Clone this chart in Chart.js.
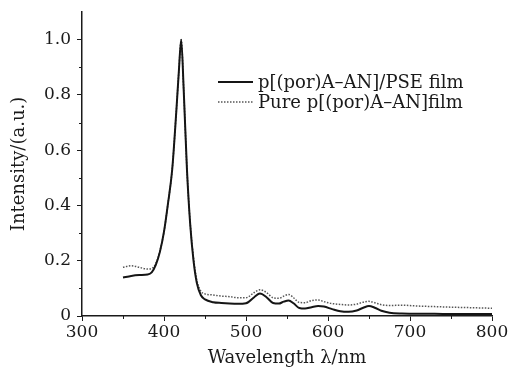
<!DOCTYPE html>
<html>
<head>
<meta charset="utf-8">
<script src="https://cdn.jsdelivr.net/npm/chart.js@4/dist/chart.umd.min.js"></script>
<style>
    html, body { margin: 0; padding: 0; background: #fff; }
    #wrap { width: 509px; height: 369px; }
</style>
</head>
<body>
<div id="wrap"><canvas id="spectrumChart"></canvas></div>
<script>
// Wavelength (nm) and intensity
const wavelengths = [350, 360, 370, 380, 385, 390, 395, 400, 405, 410, 415, 418, 421, 424, 428, 432, 436, 440, 445, 450,
    460, 470, 480, 490, 500, 510, 517, 525, 533, 540, 546, 552, 558, 565, 572, 580, 588, 595, 605, 615,
    625, 635, 643, 650, 657, 665, 675, 690, 710, 730, 750, 775, 800];

const pseFilm = [0.139, 0.145, 0.148, 0.150, 0.158, 0.185, 0.232, 0.305, 0.41, 0.53, 0.74, 0.88, 1.0, 0.82, 0.53, 0.33, 0.20, 0.12, 0.075, 0.060,
    0.050, 0.047, 0.045, 0.044, 0.046, 0.068, 0.081, 0.068, 0.047, 0.045, 0.052, 0.056, 0.046, 0.029, 0.027, 0.032, 0.036, 0.034, 0.025, 0.017,
    0.015, 0.020, 0.030, 0.036, 0.030, 0.019, 0.012, 0.009, 0.008, 0.008, 0.007, 0.007, 0.007];

const pureFilm = [0.176, 0.182, 0.176, 0.170, 0.172, 0.190, 0.235, 0.305, 0.41, 0.53, 0.74, 0.88, 1.0, 0.82, 0.53, 0.335, 0.21, 0.13, 0.09, 0.080,
    0.076, 0.072, 0.070, 0.066, 0.066, 0.085, 0.095, 0.085, 0.066, 0.064, 0.072, 0.078, 0.066, 0.049, 0.048, 0.056, 0.058, 0.052, 0.045, 0.042,
    0.040, 0.043, 0.050, 0.053, 0.048, 0.041, 0.038, 0.039, 0.036, 0.034, 0.032, 0.030, 0.028];

const seriesLabels = ['p[(por)A\u2013AN]/PSE film', 'Pure p[(por)A\u2013AN]film'];
const xTicks = [300, 400, 500, 600, 700, 800];
const yTicks = [0, 0.2, 0.4, 0.6, 0.8, 1.0];

const FONT = 'DejaVu Serif, Liberation Serif, serif';
const INK = '#1a1a1a';

function toPoints(values) {
    return wavelengths.map((w, i) => ({ x: w, y: values[i] }));
}

// minor ticks half way between the major ones, plus the legend in the upper right
const extrasPlugin = {
    id: 'extras',
    afterDraw(chart) {
        const ctx = chart.ctx;
        const xs = chart.scales.x;
        const ys = chart.scales.y;
        ctx.save();
        ctx.strokeStyle = INK;
        ctx.lineWidth = 1;
        ctx.beginPath();
        for (let i = 0; i < xTicks.length - 1; i++) {
            const px = Math.round(xs.getPixelForValue((xTicks[i] + xTicks[i + 1]) / 2)) + 0.5;
            ctx.moveTo(px, ys.bottom);
            ctx.lineTo(px, ys.bottom + 3);
        }
        for (let i = 0; i < yTicks.length - 1; i++) {
            const py = Math.round(ys.getPixelForValue((yTicks[i] + yTicks[i + 1]) / 2)) + 0.5;
            ctx.moveTo(xs.left, py);
            ctx.lineTo(xs.left - 3, py);
        }
        ctx.stroke();

        // legend
        ctx.font = '18px ' + FONT;
        ctx.textBaseline = 'middle';
        ctx.fillStyle = INK;
        chart.data.datasets.forEach((ds, i) => {
            const y = 82 + i * 20;
            ctx.beginPath();
            ctx.strokeStyle = ds.borderColor;
            ctx.lineWidth = ds.borderWidth;
            ctx.setLineDash(ds.borderDash || []);
            ctx.moveTo(218, y);
            ctx.lineTo(253, y);
            ctx.stroke();
            ctx.setLineDash([]);
            ctx.fillText(ds.label, 258, y + 1);
        });
        ctx.restore();
    }
};

function initChart() {
    new Chart(document.getElementById('spectrumChart'), {
        type: 'line',
        data: {
            datasets: [
                {
                    label: seriesLabels[0],
                    data: toPoints(pseFilm),
                    borderColor: '#151515',
                    borderWidth: 2,
                    pointRadius: 0,
                    cubicInterpolationMode: 'monotone'
                },
                {
                    label: seriesLabels[1],
                    data: toPoints(pureFilm),
                    borderColor: '#555555',
                    borderWidth: 1.5,
                    borderDash: [1.5, 1.5],
                    pointRadius: 0,
                    cubicInterpolationMode: 'monotone'
                }
            ]
        },
        options: {
            responsive: true,
            maintainAspectRatio: false,
            animation: false,
            layout: { padding: { top: 12, right: 17, left: 0, bottom: 0 } },
            plugins: {
                legend: { display: false },
                tooltip: { enabled: false }
            },
            scales: {
                x: {
                    type: 'linear',
                    min: 300,
                    max: 800,
                    afterBuildTicks: s => { s.ticks = xTicks.map(v => ({ value: v })); },
                    afterFit: s => { s.height = 53; s.paddingLeft = 0; s.paddingRight = 0; },
                    grid: { drawOnChartArea: false, tickLength: 5, color: INK },
                    border: { color: INK, width: 1.5 },
                    ticks: { color: INK, padding: 1, maxRotation: 0, font: { family: FONT, size: 17 } },
                    title: {
                        display: true,
                        text: 'Wavelength \u03bb/nm',
                        color: INK,
                        padding: { top: 0, bottom: 0 },
                        font: { family: FONT, size: 18 }
                    }
                },
                y: {
                    min: 0,
                    max: 1.1,
                    afterBuildTicks: s => { s.ticks = yTicks.map(v => ({ value: v })); },
                    afterFit: s => { s.width = 82; s.paddingTop = 0; s.paddingBottom = 0; },
                    grid: { drawOnChartArea: false, tickLength: 5, color: INK },
                    border: { color: INK, width: 1.5 },
                    ticks: {
                        color: INK,
                        padding: 6,
                        font: { family: FONT, size: 17 },
                        callback: v => v === 0 ? '0' : v.toFixed(1)
                    },
                    title: {
                        display: true,
                        text: 'Intensity/(a.u.)',
                        color: INK,
                        padding: { top: 9, bottom: 0 },
                        font: { family: FONT, size: 18 }
                    }
                }
            }
        },
        plugins: [extrasPlugin]
    });
}

initChart();
</script>
</body>
</html>
